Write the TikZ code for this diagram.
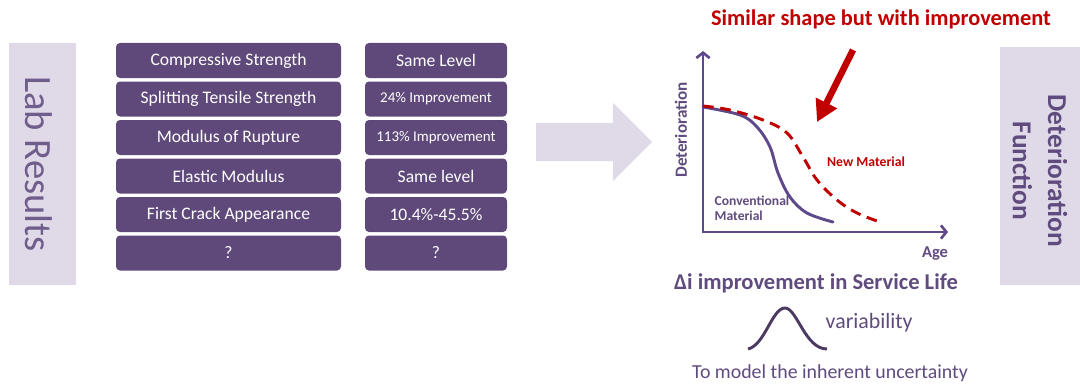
\documentclass[tikz,border=0pt]{standalone}
\usepackage{fontspec}
\setmainfont{Carlito}
\usetikzlibrary{arrows.meta}
\definecolor{cellpurple}{HTML}{5F497A}
\definecolor{lavender}{HTML}{E0DAE8}
\definecolor{inkpurple}{HTML}{5F4B7E}
\definecolor{axispurple}{HTML}{5E4A8A}
\definecolor{darkred}{HTML}{C00000}
\tikzset{
  cell/.style={fill=cellpurple,text=white,rounded corners=3pt,inner sep=0pt,
    minimum height=26.25pt,font=\fontsize{13.2}{15}\selectfont},
  leftcell/.style={cell,minimum width=168.75pt},
  rightcell/.style={cell,minimum width=106.5pt},
  smalltext/.style={font=\fontsize{11.2}{13}\selectfont},
  sidebar/.style={fill=lavender,inner sep=0pt,rotate=-90},
  curve/.style={line width=2.2pt,line cap=round},
}
\begin{document}
\begin{tikzpicture}[x=0.75pt,y=-0.75pt]
  \useasboundingbox (0,0) rectangle (1080,385);
  \node[sidebar,minimum width=181.5pt,minimum height=50.25pt] (labbar) at (42.5,164) {};
  \node[rotate=-90,text=inkpurple!90,font=\fontsize{29}{34}\selectfont] (labtext) at (39,164) {Lab Results};
  \node[leftcell] (cs) at (228.5,60.5) {Compressive Strength};
  \node[leftcell] (sts) at (228.5,99) {Splitting Tensile Strength};
  \node[leftcell] (mor) at (228.5,137.5) {Modulus of Rupture};
  \node[leftcell] (em) at (228.5,176) {Elastic Modulus};
  \node[leftcell] (fca) at (228.5,214.5) {First Crack Appearance};
  \node[leftcell] (unk) at (228.5,253) {?};
  \node[rightcell] (cs-val) at (436,60.5) {Same Level};
  \node[rightcell,smalltext] (sts-val) at (436,99) {24\% Improvement};
  \node[rightcell,smalltext] (mor-val) at (436,137.5) {113\% Improvement};
  \node[rightcell] (em-val) at (436,176) {Same level};
  \node[rightcell] (fca-val) at (436,214.5) {10.4\%-45.5\%};
  \node[rightcell] (unk-val) at (436,253) {?};
  \fill[lavender] (536,123) -- (613,123) -- (613,103) -- (652,142) -- (613,181)
    -- (613,161) -- (536,161) -- cycle;
  \node[text=darkred,font=\bfseries\fontsize{16.8}{20}\selectfont] (title) at (881,19)
    {Similar shape but with improvement};
  \coordinate (origin) at (703,232);
  \coordinate (ytop) at (703,51);
  \coordinate (xend) at (948,232);
  \draw[axispurple,line width=2pt,{Straight Barb[length=4pt,width=10pt]}-{Straight Barb[length=4pt,width=10pt]}]
    (ytop) -- (origin) -- (xend);
  \node[rotate=90,text=inkpurple,font=\bfseries\fontsize{12.8}{15}\selectfont] (ylab) at (681,130) {Deterioration};
  \node[text=inkpurple,font=\bfseries\fontsize{12.4}{15}\selectfont] (xlab) at (935,254) {Age};
  \draw[curve,axispurple] plot[smooth,tension=0.6] coordinates {(703,107) (740,115) (757,127)
    (770,147) (778,173) (790,197) (807,213) (833,222)};
  \draw[curve,darkred,dash pattern=on 8pt off 5pt,line cap=butt] plot[smooth,tension=0.6] coordinates {(703,106)
    (730,110) (763,120) (787,133) (803,157) (817,180) (837,200) (857,213) (880,222)};
  \node[anchor=west,align=left,text=inkpurple,font=\bfseries\fontsize{10.2}{11.25}\selectfont] (conv) at (710,208.5)
    {Conventional\\Material};
  \node[text=darkred,font=\bfseries\fontsize{10.3}{12}\selectfont] (new) at (866,162) {New Material};
  \coordinate (tail) at (853,50);
  \coordinate (tip) at (817,122);
  \draw[darkred,line width=5pt,-{Triangle[length=16pt,width=17pt]}] (tail) -- (tip);
  \node[sidebar,minimum width=178.5pt,minimum height=60pt] (detbar) at (1040,166) {};
  \node[rotate=-90,text=inkpurple,align=center,font=\bfseries\fontsize{20.5}{26.5}\selectfont]
    (dettext) at (1040,171) {Deterioration\\Function};
  \node[text=inkpurple,font=\bfseries\fontsize{16.9}{20}\selectfont] (gain) at (816,283)
    {Δi improvement in Service Life};
  \draw[line width=2.2pt,cellpurple!80!black] (748,349) .. controls (765,345) and (772,308) .. (785,308)
    .. controls (797,308) and (805,349) .. (827,349);
  \node[anchor=west,text=inkpurple,font=\fontsize{16.4}{19}\selectfont] (var) at (821,323) {variability};
  \node[text=inkpurple,font=\fontsize{14.9}{18}\selectfont] (note) at (830,373)
    {To model the inherent uncertainty};
\end{tikzpicture}
\end{document}
